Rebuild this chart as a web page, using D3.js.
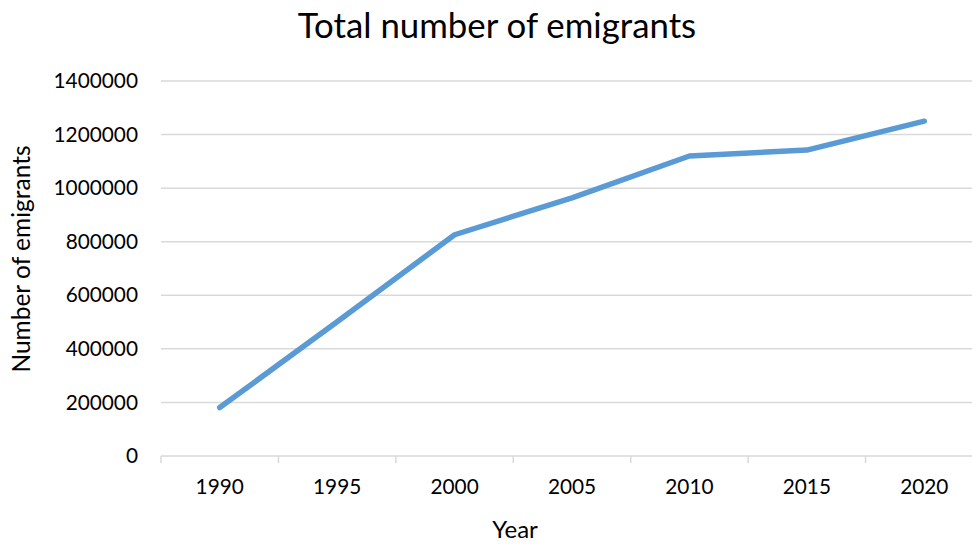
<html>
<head>
<script src="https://cdnjs.cloudflare.com/ajax/libs/d3/7.8.5/d3.min.js"></script>
<style>
	body {margin: 0; background: #fff;}
	svg {display: block; font-family: Lato, "Open Sans", sans-serif;}
</style>
</head>
<body>
<div id="chart"></div>
<script>
// data
var years = ["1990", "1995", "2000", "2005", "2010", "2015", "2020"];
var emigrants = [181000, 501000, 826000, 964000, 1120000, 1142000, 1250000];
var yTicks = [0, 200000, 400000, 600000, 800000, 1000000, 1200000, 1400000];

var width = 972, height = 544;
var plotLeft = 161, plotRight = 983, plotTop = 81, plotBottom = 456;

var svg = d3.select("#chart").append("svg")
	.attr("width", width)
	.attr("height", height);

var xScale = d3.scaleBand().domain(years).range([plotLeft, plotRight]);
var yScale = d3.scaleLinear().domain([0, 1400000]).range([plotBottom, plotTop]);

// horizontal grid lines
svg.append("g")
	.selectAll("line")
	.data(yTicks)
	.enter()
	.append("line")
	.attr("x1", plotLeft)
	.attr("x2", plotRight)
	.attr("y1", function(d) { return yScale(d); })
	.attr("y2", function(d) { return yScale(d); })
	.style("stroke", "#d9d9d9")
	.style("stroke-width", 1.5);

// y axis labels
var yAxis = svg.append("g")
	.attr("transform", "translate(" + (plotLeft - 23) + ",0)")
	.call(d3.axisLeft(yScale).tickValues(yTicks).tickSize(0).tickPadding(0).tickFormat(d3.format("d")));
yAxis.select(".domain").remove();
yAxis.selectAll("text")
	.style("font-family", "Lato, 'Open Sans', sans-serif")
	.style("font-size", "20.8px")
	.style("fill", "#000");

// x axis, ticks sit between the categories
var xAxis = svg.append("g")
	.attr("transform", "translate(0," + plotBottom + ")")
	.call(d3.axisBottom(xScale).tickSize(0).tickPadding(23));
xAxis.select(".domain").remove();
xAxis.selectAll("text")
	.style("font-family", "Lato, 'Open Sans', sans-serif")
	.style("font-size", "20.8px")
	.style("fill", "#000");

svg.append("g")
	.selectAll("line")
	.data(years.concat(["end"]))
	.enter()
	.append("line")
	.attr("x1", function(d, i) { return plotLeft + i * xScale.step(); })
	.attr("x2", function(d, i) { return plotLeft + i * xScale.step(); })
	.attr("y1", plotBottom)
	.attr("y2", plotBottom + 7)
	.style("stroke", "#d9d9d9")
	.style("stroke-width", 1.5);

// the line
var line = d3.line()
	.x(function(d, i) { return xScale(years[i]) + xScale.bandwidth() / 2; })
	.y(function(d) { return yScale(d); });

svg.append("path")
	.datum(emigrants)
	.attr("d", line)
	.style("fill", "none")
	.style("stroke", "#5b9bd5")
	.style("stroke-width", 5.5)
	.style("stroke-linecap", "round")
	.style("stroke-linejoin", "round");

// titles
svg.append("text")
	.attr("x", 497)
	.attr("y", 38)
	.attr("text-anchor", "middle")
	.style("font-size", "34.8px")
	.text("Total number of emigrants");

svg.append("text")
	.attr("transform", "translate(30,259) rotate(-90)")
	.attr("text-anchor", "middle")
	.style("font-size", "24.5px")
	.text("Number of emigrants");

svg.append("text")
	.attr("x", 515)
	.attr("y", 538)
	.attr("text-anchor", "middle")
	.style("font-size", "24px")
	.text("Year");
</script>
</body>
</html>
